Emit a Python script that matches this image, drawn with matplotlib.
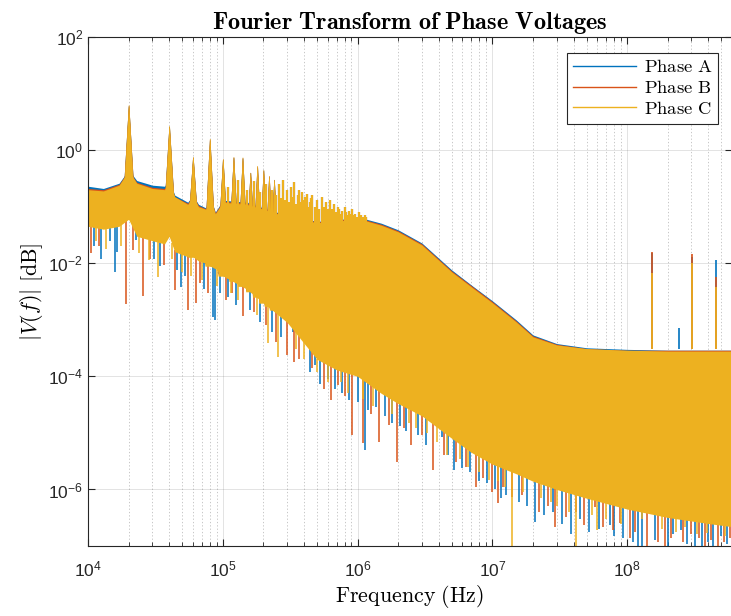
import numpy as np
import matplotlib
matplotlib.use("Agg")
import matplotlib.pyplot as plt

plt.rcParams['font.family'] = ['Liberation Sans', 'DejaVu Sans']
plt.rcParams['mathtext.fontset'] = 'cm'
plt.rcParams['axes.unicode_minus'] = False

# envelope knots (Hz)
f_env = [1e4, 1.3e4, 1.7e4, 2e4, 2.3e4, 3e4, 3.7e4, 4e4, 4.4e4, 5.5e4, 6e4, 6.6e4,
         7.5e4, 8e4, 8.8e4, 1e5, 1.5e5, 2e5, 3e5, 5e5, 7e5, 1e6, 1.5e6, 2e6,
         3e6, 5e6, 7e6, 1e7, 1.5e7, 2e7, 3e7, 5e7, 1e8, 2e8, 4e8, 6e8]

upper_a = [0.23, 0.21, 0.26, 0.45, 0.29, 0.24, 0.23, 0.3, 0.16, 0.12, 0.16, 0.11,
           0.095, 0.16, 0.08, 0.13, 0.12, 0.095, 0.07, 0.055, 0.058, 0.066, 0.051, 0.039,
           0.0228, 0.0076, 0.0041, 0.00217, 0.001, 0.00054, 0.00038, 0.00032, 0.0003, 0.00029, 0.00029, 0.00029]
upper_b = [0.21, 0.2, 0.25, 0.44, 0.27, 0.22, 0.21, 0.3, 0.15, 0.115, 0.16, 0.105,
           0.092, 0.16, 0.078, 0.125, 0.115, 0.092, 0.068, 0.054, 0.057, 0.064, 0.049, 0.0375,
           0.022, 0.0073, 0.004, 0.0021, 0.00096, 0.00052, 0.00037, 0.00031, 0.00029, 0.00029, 0.00029, 0.00029]
upper_c = [0.2, 0.19, 0.24, 0.44, 0.26, 0.21, 0.2, 0.3, 0.15, 0.11, 0.16, 0.1,
           0.09, 0.16, 0.075, 0.12, 0.11, 0.09, 0.066, 0.052, 0.055, 0.062, 0.047, 0.036,
           0.021, 0.007, 0.0038, 0.002, 0.00092, 0.0005, 0.00036, 0.00031, 0.00029, 0.00028, 0.00028, 0.00028]

lower_a = [0.05, 0.044, 0.05, 0.066, 0.033, 0.028, 0.024, 0.033, 0.018, 0.014, 0.014, 0.012,
           0.011, 0.01, 0.0088, 0.0066, 0.0038, 0.0022, 0.001, 0.00022, 0.00014, 0.00011, 5.5e-5, 3.6e-5,
           2.2e-5, 8.8e-6, 5e-6, 3.1e-6, 2.1e-6, 1.5e-6, 1.1e-6, 7.7e-7, 5e-7, 3.5e-7, 2.8e-7, 2.4e-7]
lower_b = [0.049, 0.043, 0.049, 0.065, 0.032, 0.027, 0.024, 0.032, 0.017, 0.014, 0.014, 0.012,
           0.011, 0.0098, 0.0087, 0.0065, 0.0037, 0.0021, 0.00098, 0.00021, 0.00014, 0.00011, 5.4e-5, 3.5e-5,
           2.1e-5, 8.6e-6, 4.9e-6, 3e-6, 2e-6, 1.5e-6, 1.1e-6, 7.6e-7, 4.9e-7, 3.4e-7, 2.7e-7, 2.4e-7]
lower_c = [0.045, 0.04, 0.045, 0.06, 0.03, 0.025, 0.022, 0.03, 0.016, 0.013, 0.013, 0.011,
           0.01, 0.009, 0.008, 0.006, 0.0035, 0.002, 0.0009, 0.0002, 0.00013, 0.0001, 5e-5, 3.3e-5,
           2e-5, 8e-6, 4.5e-6, 2.8e-6, 1.9e-6, 1.4e-6, 1e-6, 7e-7, 4.5e-7, 3.2e-7, 2.5e-7, 2.2e-7]

# switching harmonics (drawn as narrow peaks)
harm_f = [2e4, 4e4, 6e4, 8e4, 1e5, 1.2e5, 1.4e5, 1.6e5, 1.8e5, 2e5, 2.2e5, 2.4e5]
harm_a = [6.0, 2.6, 0.74, 1.5, 0.68, 0.74, 0.72, 0.4, 0.5, 0.44, 0.34, 0.3]
harm_b = [6.1, 2.6, 0.75, 1.55, 0.69, 0.75, 0.73, 0.4, 0.52, 0.44, 0.35, 0.3]
harm_c = [6.3, 2.7, 0.76, 1.6, 0.7, 0.76, 0.75, 0.4, 0.53, 0.45, 0.35, 0.3]

# spiky comb above the body
comb_f = [1.1e5, 1.3e5, 1.5e5, 1.7e5, 1.9e5, 2.1e5, 2.3e5, 2.5e5, 2.6e5, 2.7e5, 2.8e5, 2.9e5,
          3e5, 3.1e5, 3.2e5, 3.3e5, 3.4e5, 3.5e5, 3.6e5, 3.7e5, 3.8e5, 3.9e5, 4e5, 4.1e5,
          4.2e5, 4.3e5, 4.4e5, 4.5e5, 4.6e5, 4.8e5, 5e5, 5.2e5, 5.4e5, 5.6e5, 5.8e5, 6e5,
          6.2e5, 6.5e5, 6.7e5, 6.9e5, 7.1e5, 7.3e5, 7.5e5, 7.7e5, 8e5, 8.2e5, 8.4e5, 8.6e5,
          8.9e5, 9.1e5, 9.4e5, 9.6e5, 9.9e5, 1.02e6, 1.06e6, 1.09e6, 1.13e6, 1.16e6]
comb_c = [0.22, 0.3, 0.2, 0.28, 0.18, 0.25, 0.2, 0.16, 0.25, 0.14, 0.3, 0.13,
          0.2, 0.12, 0.22, 0.15, 0.27, 0.11, 0.16, 0.2, 0.12, 0.18, 0.13, 0.15,
          0.17, 0.1, 0.12, 0.14, 0.16, 0.1, 0.13, 0.09, 0.15, 0.1, 0.12, 0.09,
          0.13, 0.09, 0.11, 0.08, 0.1, 0.09, 0.075, 0.085, 0.1, 0.08, 0.07, 0.085,
          0.075, 0.09, 0.07, 0.075, 0.065, 0.08, 0.07, 0.065, 0.07, 0.066]

# high-frequency spurs
spur_f = [1.54e8, 2.44e8, 3.05e8, 4.6e8]
spur_a = [0.015, 7.2e-4, 0.013, 0.0115]
spur_b = [0.016, 3e-4, 0.0147, 0.0057]
spur_c = [0.0068, 3e-4, 0.010, 0.0038]

# notches hanging below the body
dip_f_a = [1.1e4, 1.25e4, 1.45e4, 1.58e4, 1.65e4, 2.26e4, 2.73e4, 3.1e4, 3.4e4, 4.6e4,
           4.9e4, 5.2e4, 7.2e4, 8.4e4, 8.8e4, 9.5e4, 1.1e5, 1.25e5, 1.6e5, 1.9e5,
           2.3e5, 2.7e5, 3.3e5, 4.4e5, 4.8e5, 5.3e5, 6e5, 6.8e5, 7.7e5, 8.7e5,
           1.0e6, 1.14e6, 1.2e6, 1.37e6, 1.6e6, 1.8e6, 2.07e6, 2.3e6, 2.8e6, 3.2e6,
           4.2e6, 4.7e6, 5.2e6, 6e6, 6.8e6, 8e6, 9.2e6, 1.05e7, 1.15e7, 1.27e7,
           1.57e7, 1.8e7, 2.06e7, 2.4e7, 2.8e7, 3.3e7, 3.8e7, 4.5e7, 5.2e7, 6.2e7,
           7.4e7, 8e7, 9.3e7, 1.1e8, 1.2e8, 1.3e8, 1.6e8, 2e8, 2.2e8, 2.5e8,
           2.8e8, 3.2e8, 3.6e8, 4e8, 4.3e8, 5e8, 5.5e8]
dip_v_a = [0.02, 0.012, 0.025, 7.1e-3, 0.016, 0.0257, 0.028, 0.012, 0.009, 7.6e-3,
           3.8e-3, 6e-3, 3.5e-3, 1.1e-3, 1e-3, 3e-3, 2.5e-3, 1.8e-3, 1.5e-3, 9e-4,
           6e-4, 5e-4, 6e-4, 1.2e-4, 1.6e-4, 7.3e-5, 9e-5, 6e-5, 5e-5, 3.8e-5,
           3.5e-5, 5e-6, 2.5e-5, 2.9e-5, 2e-5, 1.5e-5, 1.3e-5, 1.1e-5, 9e-6, 6e-6,
           8.6e-6, 4e-6, 2.2e-6, 2.4e-6, 2e-6, 1.4e-6, 1.3e-6, 1e-6, 7e-7, 8e-7,
           6e-7, 5e-7, 2.7e-7, 3.5e-7, 4e-7, 2.5e-7, 1.6e-7, 3e-7, 1.8e-7, 2e-7,
           2.4e-7, 1.5e-7, 1.4e-7, 1.2e-7, 9e-8, 9e-8, 1.3e-7, 1e-7, 1.6e-7, 1.9e-7,
           1.1e-7, 9e-8, 9e-8, 1.2e-7, 9e-8, 1.5e-7, 1.1e-7]
dip_f_b = [1.05e4, 1.2e4, 1.9e4, 2.14e4, 2.58e4, 2.9e4, 3.67e4, 4.4e4, 5.5e4, 6.3e4,
           6.8e4, 7.8e4, 1.05e5, 1.18e5, 1.42e5, 1.7e5, 2.1e5, 2.5e5, 3.0e5, 3.4e5,
           3.7e5, 4.6e5, 5.6e5, 6.3e5, 7.2e5, 8e5, 9.1e5, 1.09e6, 1.25e6, 1.45e6,
           1.7e6, 1.95e6, 2.2e6, 2.5e6, 3e6, 3.6e6, 4.4e6, 5.4e6, 6.4e6, 7.5e6,
           8.5e6, 1.0e7, 1.1e7, 1.2e7, 1.4e7, 1.65e7, 1.8e7, 2.2e7, 2.6e7, 2.9e7,
           3.5e7, 4.2e7, 4.8e7, 5.8e7, 6.6e7, 7.8e7, 8.8e7, 1.05e8, 1.15e8, 1.4e8,
           1.7e8, 1.9e8, 2.1e8, 2.6e8, 3e8, 3.4e8, 3.8e8, 4.2e8, 4.7e8, 5.2e8, 5.8e8]
dip_v_b = [0.015, 0.02, 1.9e-3, 0.017, 2.6e-3, 0.012, 9.5e-3, 3.3e-3, 1.5e-3, 2e-3,
           4.5e-3, 3e-3, 2.2e-3, 3e-3, 1.15e-3, 1.4e-3, 8e-4, 4e-4, 2.4e-4, 1.8e-4,
           2e-4, 1.4e-4, 6e-5, 3.8e-5, 7e-5, 4.5e-5, 9e-6, 6.7e-6, 2.2e-5, 7e-6,
           1.4e-5, 3.1e-6, 1.2e-5, 6.2e-6, 9e-6, 2.2e-6, 4e-6, 3e-6, 2.5e-6, 1.1e-6,
           1.6e-6, 9e-7, 5.7e-7, 1.1e-6, 7.4e-7, 8e-7, 1.7e-6, 4e-7, 5e-7, 2.2e-7,
           3.2e-7, 4e-7, 2.4e-7, 4.8e-7, 2.2e-7, 1.9e-7, 2.6e-7, 1.4e-7, 1.8e-7, 9e-8,
           1.2e-7, 9e-8, 1.4e-7, 1.2e-7, 1.6e-7, 1.4e-7, 1e-7, 1.3e-7, 9e-8, 1.2e-7, 1.4e-7]
dip_f_c = [1.15e4, 1.35e4, 1.75e4, 2.4e4, 2.84e4, 3.3e4, 4.2e4, 5e4, 5.8e4, 7e4,
           9e4, 1.15e5, 1.3e5, 1.8e5, 2.15e5, 2.57e5, 3.5e5, 4e5, 5e5, 6e5,
           7.5e5, 8.5e5, 1.1e6, 1.3e6, 1.8e6, 2.4e6, 2.7e6, 3.3e6, 3.9e6, 4.6e6,
           5.8e6, 6.6e6, 8e6, 9.5e6, 1.1e7, 1.25e7, 1.4e7, 1.7e7, 2.3e7, 2.7e7,
           3e7, 3.7e7, 4.2e7, 5.5e7, 6e7, 7e7, 9e7, 1.3e8, 1.8e8, 2.3e8,
           2.7e8, 3.3e8, 3.9e8, 5.3e8]
dip_v_c = [0.025, 0.018, 0.02, 0.015, 0.0115, 5.8e-3, 0.012, 7e-3, 6e-3, 5e-3,
           4e-3, 3e-3, 2.2e-3, 1.2e-3, 3.9e-4, 2.2e-4, 3e-4, 2e-4, 1.2e-4, 8e-5,
           8e-5, 5e-5, 4e-5, 3e-5, 2.2e-5, 1.5e-5, 1.2e-5, 1e-5, 7e-6, 4e-6,
           3.5e-6, 2.5e-6, 2e-6, 1.5e-6, 1.4e-6, 1.1e-6, 9e-8, 9e-7, 7e-7, 6e-7,
           5e-7, 4e-7, 9e-8, 3.5e-7, 1.9e-7, 3e-7, 2.5e-7, 3e-7, 2e-7, 1.8e-7,
           2.2e-7, 1.6e-7, 1.7e-7, 1.5e-7]

phases = [
    ('Phase A', '#0072BD', upper_a, lower_a, harm_a, spur_a, dip_f_a, dip_v_a),
    ('Phase B', '#D95319', upper_b, lower_b, harm_b, spur_b, dip_f_b, dip_v_b),
    ('Phase C', '#EDB120', upper_c, lower_c, harm_c, spur_c, dip_f_c, dip_v_c),
]

fig = plt.figure(figsize=(7.31, 6.16), dpi=100)
ax = fig.add_axes([0.1204, 0.1136, 0.881, 0.8263])
ax.set_xscale('log')
ax.set_yscale('log')

half = 10 ** (4.5 / 134.7)   # half-width of a harmonic foot (about 4.5 px)
for name, col, up, lo, hm, sp, df, dv in phases:
    ax.fill_between(f_env, lo, up, color=col, lw=0, zorder=2)
    base = np.interp(np.log10(harm_f), np.log10(f_env), lo)
    for f, b, p in zip(harm_f, base, hm):
        ax.fill_between([f / half, f, f * half], [b, b, b], [b * 4, p, b * 4],
                        color=col, lw=0.4, edgecolor=col, zorder=2)
    cb = np.interp(np.log10(comb_f), np.log10(f_env), up)
    ax.vlines(comb_f, cb * 0.6, comb_c, color=col, lw=1.5, zorder=2)
    ax.vlines(spur_f, 3e-4, sp, color=col, lw=1.2, zorder=2)
    top = np.interp(np.log10(df), np.log10(f_env), lo)
    ax.vlines(df, dv, top, color=col, lw=1.1, zorder=2)
    ax.plot([], [], color=col, lw=1.0, label=name)

ax.set_xlim(1e4, 6e8)
ax.set_ylim(1e-7, 1e2)
ax.set_xticks([1e4, 1e5, 1e6, 1e7, 1e8])
ax.set_yticks([1e-6, 1e-4, 1e-2, 1e0, 1e2])

ax.grid(True, which='major', color='#262626', alpha=0.15, lw=0.6, ls='-')
ax.grid(True, which='minor', color='#262626', alpha=0.3, lw=0.6, ls=(0, (1.5, 2.5)))
ax.set_axisbelow(True)
for s in ax.spines.values():
    s.set_color('#262626')
    s.set_linewidth(0.8)
ax.tick_params(which='both', direction='in', top=True, right=True, colors='#262626',
               labelsize=12.5, labelcolor='#262626')
ax.tick_params(which='major', length=5)
ax.tick_params(which='minor', length=3)
ax.tick_params(axis='x', pad=10)

ax.set_title(r'$\mathbf{Fourier\ Transform\ of\ Phase\ Voltages}$', fontsize=17.5, pad=6)
ax.set_xlabel(r'$\mathrm{Frequency\ (Hz)}$', fontsize=15.8, labelpad=2)
ax.set_ylabel(r'$|V(f)|\ \mathrm{[dB]}$', fontsize=15.8, labelpad=2)

leg = ax.legend(loc='upper right', bbox_to_anchor=(0.978, 0.969), borderaxespad=0,
                fancybox=False, framealpha=1, edgecolor='#262626',
                handlelength=3.4, handletextpad=0.4, labelspacing=0.15, borderpad=0.3,
                prop={'family': 'DejaVu Serif', 'size': 13.4})
leg.get_frame().set_linewidth(0.8)
for t, (name, *_rest) in zip(leg.get_texts(), phases):
    t.set_text(r'$\mathrm{' + name.replace(' ', r'\ ') + '}$')

fig.savefig('out.png', dpi=100, facecolor='white')
